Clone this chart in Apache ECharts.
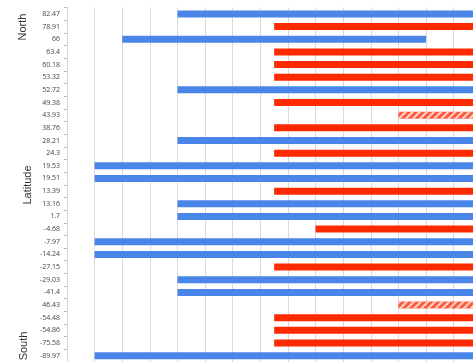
<!DOCTYPE html>
<html>
<head>
<meta charset="utf-8">
<title>Latitude</title>
<script src="https://cdn.jsdelivr.net/npm/echarts@6/dist/echarts.min.js"></script>
<style>
    html, body { margin: 0; padding: 0; background: #fff; }
    #main { width: 473px; height: 362px; }
</style>
</head>
<body>
<div id="main"></div>
<script>
/*纬度分类*/
var categories = ['82.47', '78.91', '66', '63.4', '60.18', '53.32', '52.72', '49.38', '43.93', '38.76',
    '28.21', '24.3', '19.53', '19.51', '13.39', '13.16', '1.7', '-4.68', '-7.97', '-14.24',
    '-27.15', '-29.03', '-41.4', '46.43', '-54.48', '-54.86', '-75.58', '-89.97'];
/*起点*/
var startVals = [4, 7.5, 2, 7.5, 7.5, 7.5, 4, 7.5, 12, 7.5,
    4, 7.5, 1, 1, 7.5, 4, 4, 9, 1, 1,
    7.5, 4, 4, 12, 7.5, 7.5, 7.5, 1];
/*终点 (14.7 = 右边缘)*/
var endVals = [14.7, 14.7, 13, 14.7, 14.7, 14.7, 14.7, 14.7, 14.7, 14.7,
    14.7, 14.7, 14.7, 14.7, 14.7, 14.7, 14.7, 14.7, 14.7, 14.7,
    14.7, 14.7, 14.7, 14.7, 14.7, 14.7, 14.7, 14.7];
/*类型 b=蓝 r=红 h=斜线*/
var kinds = ['b', 'r', 'b', 'r', 'r', 'r', 'b', 'r', 'h', 'r',
    'b', 'r', 'b', 'b', 'r', 'b', 'b', 'r', 'b', 'b',
    'r', 'b', 'b', 'h', 'r', 'r', 'r', 'b'];

/*取出某一类型的长度*/
function pick(kind) {
    var arr = [];
    for (var i = 0; i < categories.length; i++) {
        arr.push(kinds[i] === kind ? endVals[i] - startVals[i] : '-');
    }
    return arr;
}

var myChart = echarts.init(document.getElementById('main'));
var option = {
    animation: false,
    grid: {
        left: 67,
        right: 0,
        top: 7.6,
        bottom: -1.4
    },
    xAxis: {
        type: 'value',
        min: 0,
        max: 14.7,
        interval: 1,
        axisLabel: { show: false },
        axisLine: { show: false },
        axisTick: { show: false },
        splitLine: { lineStyle: { color: '#d9d9d9', width: 1 } }
    },
    yAxis: {
        type: 'category',
        inverse: true,
        data: categories,
        axisLine: { show: true, lineStyle: { color: '#d9d9d9' } },
        axisTick: { show: true, length: 3, lineStyle: { color: '#bbb' } },
        axisLabel: { fontSize: 7, color: '#444', margin: 7, fontFamily: 'Open Sans' }
    },
    graphic: [
        { type: 'text', x: 23, y: 27, rotation: Math.PI / 2, style: { text: 'North', fontSize: 11, fill: '#333', fontFamily: 'Liberation Sans', align: 'center', verticalAlign: 'middle' } },
        { type: 'text', x: 28, y: 185, rotation: Math.PI / 2, style: { text: 'Latitude', fontSize: 11, fill: '#333', fontFamily: 'Liberation Sans', align: 'center', verticalAlign: 'middle' } },
        { type: 'text', x: 24, y: 346, rotation: Math.PI / 2, style: { text: 'South', fontSize: 11, fill: '#333', fontFamily: 'Liberation Sans', align: 'center', verticalAlign: 'middle' } }
    ],
    series: [
        {
            name: 'base',
            type: 'bar',
            stack: 'g',
            barWidth: 7,
            itemStyle: { color: 'transparent' },
            data: startVals
        },
        {
            name: 'blue',
            type: 'bar',
            stack: 'g',
            barWidth: 7,
            itemStyle: { color: '#4a86e8' },
            data: pick('b')
        },
        {
            name: 'red',
            type: 'bar',
            stack: 'g',
            barWidth: 7,
            itemStyle: { color: '#ff2a00' },
            data: pick('r')
        },
        {
            name: 'hatch',
            type: 'bar',
            stack: 'g',
            barWidth: 7,
            itemStyle: {
                color: '#ff5a3c',
                decal: {
                    symbol: 'rect',
                    color: 'rgba(255,255,255,0.75)',
                    dashArrayX: [1, 0],
                    dashArrayY: [2, 3],
                    rotation: -Math.PI / 4
                }
            },
            data: pick('h')
        }
    ]
};
myChart.setOption(option);
</script>
</body>
</html>
